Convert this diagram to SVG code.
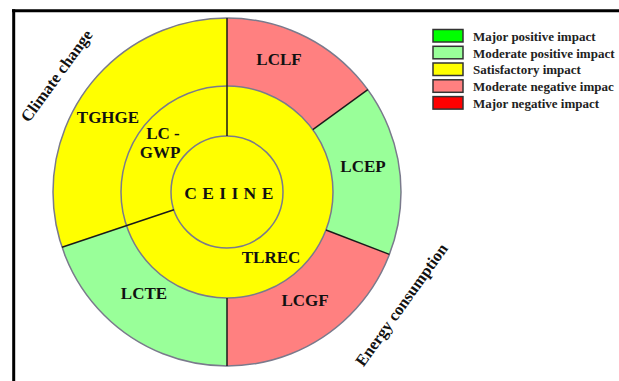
<svg xmlns="http://www.w3.org/2000/svg" width="619" height="381" viewBox="0 0 619 381">
<style>
.lbl{font-family:"Liberation Serif","Times New Roman",serif;font-weight:bold;font-size:17px;fill:#111;text-anchor:middle}
.ax{font-size:16.5px}
.leg{font-family:"Liberation Serif","Times New Roman",serif;font-weight:bold;font-size:13px;fill:#222}
.ring{fill:none;stroke:#7a7a8c;stroke-width:1.5}
.sep{stroke:#1a1a1a;stroke-width:1.5;fill:none}
.box{stroke:#333;stroke-width:1.5}
.pink{fill:#FF8080}.lgreen{fill:#99FF99}.yellow{fill:#FFFF00}.green{fill:#00FF00}.red{fill:#FF0000}
</style>
<rect width="619" height="381" fill="#fff"/>
<g id="frame">
<line x1="12" y1="10.8" x2="619" y2="10.8" stroke="#000" stroke-width="3"/>
<line x1="13.7" y1="9.3" x2="13.7" y2="381" stroke="#000" stroke-width="3"/>
</g>
<g id="LCLF"><path class="pink" d="M227 192 L227 18 A174 174 0 0 1 367.8 89.7 Z"/><text class="lbl" x="279" y="65">LCLF</text></g>
<g id="LCEP"><path class="lgreen" d="M227 192 L367.8 89.7 A174 174 0 0 1 389.4 254.4 Z"/><text class="lbl" x="363" y="171.5">LCEP</text></g>
<g id="LCGF"><path class="pink" d="M227 192 L389.4 254.4 A174 174 0 0 1 227 366 Z"/><text class="lbl" x="305" y="306">LCGF</text></g>
<g id="LCTE"><path class="lgreen" d="M227 192 L227 366 A174 174 0 0 1 62 247.2 Z"/><text class="lbl" x="144" y="299">LCTE</text></g>
<g id="TGHGE"><path class="yellow" d="M227 192 L62 247.2 A174 174 0 0 1 227 18 Z"/><text class="lbl" x="108" y="123">TGHGE</text></g>
<g id="middle-ring"><circle class="yellow" cx="227" cy="192" r="106"/></g>
<g id="LC-GWP"><text class="lbl" x="163" y="139">LC -</text><text class="lbl" x="160" y="158">GWP</text></g>
<g id="TLREC"><text class="lbl" x="271" y="262.5">TLREC</text></g>
<g id="CEIINE"><circle class="yellow" cx="227" cy="192" r="56"/><text class="lbl" x="229" y="199" style="font-size:17.5px;letter-spacing:0.5px">C E I I N E</text></g>
<g id="connectors">
<circle class="ring" cx="227" cy="192" r="174"/>
<circle class="ring" cx="227" cy="192" r="106"/>
<circle class="ring" cx="227" cy="192" r="56"/>
<line class="sep" x1="227" y1="18" x2="227" y2="136"/>
<line class="sep" x1="367.8" y1="89.7" x2="312.8" y2="129.7"/>
<line class="sep" x1="389.4" y1="254.4" x2="326" y2="230"/>
<line class="sep" x1="227" y1="366" x2="227" y2="298"/>
<line class="sep" x1="62" y1="247.2" x2="173.9" y2="209.8"/>
</g>
<g id="axis-labels">
<text class="lbl ax" transform="translate(61 79) rotate(-54)">Climate change</text>
<text class="lbl ax" transform="translate(406 308) rotate(-54.5)">Energy consumption</text>
</g>
<g id="legend">
<rect class="box green" x="433" y="29.5" width="30" height="12.5"/>
<text class="leg" x="473" y="40.8">Major positive impact</text>
<rect class="box lgreen" x="433" y="46.3" width="30" height="12.5"/>
<text class="leg" x="473" y="57.6">Moderate positive impact</text>
<rect class="box yellow" x="433" y="63" width="30" height="12.5"/>
<text class="leg" x="473" y="74.3">Satisfactory impact</text>
<rect class="box pink" x="433" y="79.8" width="30" height="12.5"/>
<text class="leg" x="473" y="91.1">Moderate negative impac</text>
<rect class="box red" x="433" y="96.6" width="30" height="12.5"/>
<text class="leg" x="473" y="107.9">Major negative impact</text>
</g>
</svg>
